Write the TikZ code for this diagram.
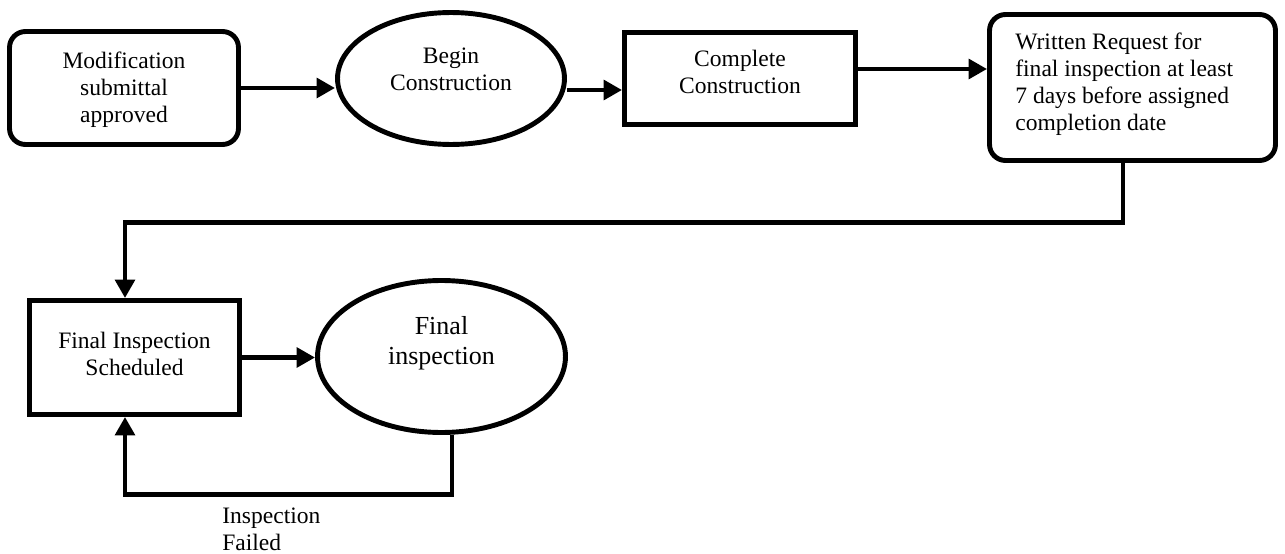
\documentclass[tikz,border=0pt]{standalone}
\usepackage{fontspec}
\setmainfont{Liberation Serif}
\usetikzlibrary{shapes.geometric,arrows.meta,calc}
\begin{document}
\begin{tikzpicture}[x=0.02cm, y=-0.02cm,
        rbox/.style={draw, line width=2.8pt, rounded corners=0.32cm},
        sbox/.style={draw, line width=2.8pt},
        oval/.style={draw, ellipse, line width=2.8pt},
        txt/.style={inner sep=0pt, align=center, font=\fontsize{13.4}{15.4}\selectfont},
        flow/.style={line width=2.8pt, -{Triangle[length=0.37cm,width=0.39cm]}}]
    \useasboundingbox (0,0) rectangle (1285,554);

    \node[rbox, minimum width=4.58cm, minimum height=2.26cm] (approved) at (124,88) {};
    \node[oval, minimum width=4.54cm, minimum height=2.64cm] (begin) at (451,78.5) {};
    \node[sbox, minimum width=4.62cm, minimum height=1.84cm] (complete) at (740,78.5) {};
    \node[rbox, minimum width=5.72cm, minimum height=2.92cm] (request) at (1132.5,87.5) {};
    \node[sbox, minimum width=4.2cm, minimum height=2.28cm] (scheduled) at (134.5,357.5) {};
    \node[oval, minimum width=4.96cm, minimum height=3.04cm] (inspect) at (441.5,356.5) {};

    \node[txt] (approvedtext) at (124,90) {Modification\\submittal\\approved};
    \node[txt] (begintext) at (451,69) {Begin\\Construction};
    \node[txt] (completetext) at (740,71.5) {Complete\\Construction};
    \node[txt, align=left, anchor=west] (requesttext) at (1015,84) {Written Request for\\final inspection at least\\7 days before assigned\\completion date};
    \node[txt] (scheduledtext) at (134.5,354) {Final Inspection\\Scheduled};
    \node[txt, font=\fontsize{14.8}{17.1}\selectfont] (inspecttext) at (441.5,343) {Final\\inspection};
    \node[txt, align=left, anchor=west] (failedtext) at (222,529) {Inspection\\Failed};

    \draw[flow] (approved.east) -- (approved.east -| begin.west);
    \draw[flow] ($(begin.east)+(0,11.5)$) -- ($(complete.west)+(0,11.5)$);
    \draw[flow] ($(complete.east)+(0,-9.5)$) -- ($(request.west)+(0,-18.5)$);
    \draw[flow] ($(request.south)+(-9.5,0)$) -- ++(0,60) -| ($(scheduled.north)+(-9.5,0)$);
    \draw[flow] (scheduled.east) -- (scheduled.east -| inspect.west);
    \draw[flow] ($(inspect.south)+(10.5,0)$) -- ++(0,60) -| ($(scheduled.south)+(-9.5,0)$);
\end{tikzpicture}
\end{document}
